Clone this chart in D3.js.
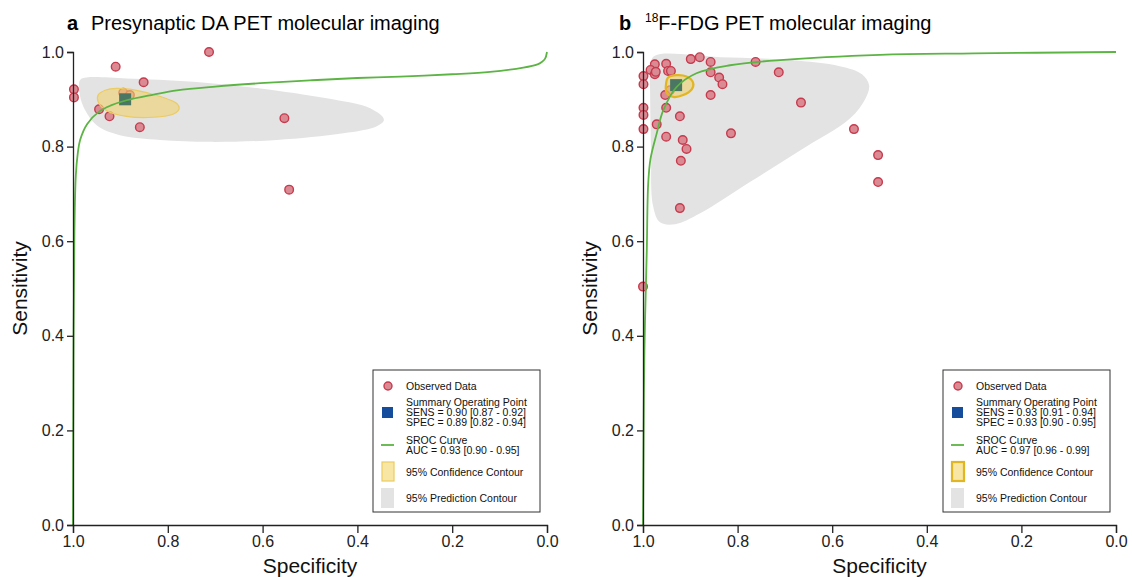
<!DOCTYPE html>
<html>
<head>
<meta charset="utf-8">
<script src="https://cdn.jsdelivr.net/npm/d3@7"></script>
<style>
  body { margin: 0; background: #fff; }
  svg { display: block; font-family: Arial, "Liberation Sans", sans-serif; }
</style>
</head>
<body>
<svg width="1132" height="577"></svg>
<script>
// ---- panel a : presynaptic DA PET ----
const aObsSpec = [0.713, 0.910, 0.998, 0.998, 0.851, 0.894, 0.880, 0.945, 0.923, 0.859, 0.554, 0.544];
const aObsSens = [1.000, 0.969, 0.921, 0.904, 0.936, 0.914, 0.909, 0.879, 0.864, 0.841, 0.860, 0.709];
const aSummary = [0.89, 0.90]; // spec, sens
const aCurveSpec = [1.000, 0.999, 0.997, 0.994, 0.990, 0.985, 0.970, 0.945, 0.920, 0.887, 0.830, 0.781, 0.700, 0.605, 0.500, 0.400, 0.310, 0.200, 0.120, 0.050, 0.020, 0.011, 0.004, 0.000];
const aCurveSens = [0.000, 0.350, 0.620, 0.740, 0.785, 0.814, 0.848, 0.874, 0.887, 0.898, 0.910, 0.919, 0.927, 0.934, 0.940, 0.945, 0.948, 0.953, 0.958, 0.967, 0.974, 0.979, 0.986, 1.000];
const aConfSpec = [0.947, 0.932, 0.908, 0.866, 0.816, 0.781, 0.776, 0.788, 0.831, 0.887, 0.929, 0.947];
const aConfSens = [0.909, 0.919, 0.923, 0.919, 0.906, 0.891, 0.881, 0.869, 0.862, 0.864, 0.876, 0.895];
const aPredSpec = [0.985, 0.971, 0.887, 0.746, 0.605, 0.465, 0.373, 0.344, 0.359, 0.430, 0.570, 0.711, 0.816, 0.901, 0.950, 0.978, 0.987];
const aPredSens = [0.941, 0.946, 0.944, 0.937, 0.923, 0.902, 0.881, 0.857, 0.843, 0.828, 0.814, 0.810, 0.814, 0.824, 0.845, 0.884, 0.919];
const aLegendSummary = ["SENS = 0.90 [0.87 - 0.92]", "SPEC = 0.89 [0.82 - 0.94]"];
const aLegendAuc = "AUC = 0.93 [0.90 - 0.95]";

// ---- panel b : 18F-FDG PET ----
const bObsSpec = [0.899, 0.880, 0.857, 0.762, 0.951, 0.975, 0.984, 0.975, 0.973, 0.947, 0.941, 0.999, 0.999, 0.857, 0.713, 0.839, 0.832, 0.943, 0.953, 0.857, 0.666, 0.999, 0.999, 0.951, 0.922, 0.999, 0.971, 0.951, 0.814, 0.554, 0.916, 0.908, 0.920, 0.922, 0.503, 0.503, 1.000];
const bObsSens = [0.985, 0.989, 0.979, 0.979, 0.975, 0.974, 0.962, 0.953, 0.958, 0.960, 0.960, 0.949, 0.932, 0.957, 0.957, 0.946, 0.932, 0.919, 0.909, 0.909, 0.893, 0.882, 0.867, 0.882, 0.864, 0.837, 0.847, 0.821, 0.828, 0.837, 0.814, 0.795, 0.770, 0.670, 0.782, 0.725, 0.504];
const bSummary = [0.93, 0.93];
const bCurveSpec = [1.000, 0.999, 0.997, 0.992, 0.989, 0.984, 0.971, 0.957, 0.929, 0.887, 0.816, 0.710, 0.499, 0.300, 0.000];
const bCurveSens = [0.000, 0.150, 0.369, 0.580, 0.722, 0.775, 0.828, 0.877, 0.926, 0.955, 0.972, 0.983, 0.994, 0.997, 1.000];
const bConfSpec = [0.951, 0.947, 0.929, 0.908, 0.894, 0.897, 0.915, 0.936, 0.950];
const bConfSens = [0.935, 0.946, 0.951, 0.948, 0.935, 0.921, 0.909, 0.905, 0.914];
const bPredSpec = [0.975, 0.837, 0.689, 0.584, 0.537, 0.522, 0.529, 0.562, 0.668, 0.774, 0.879, 0.932, 0.964, 0.979, 0.983, 0.985, 0.985];
const bPredSens = [0.992, 0.989, 0.983, 0.970, 0.953, 0.930, 0.903, 0.860, 0.792, 0.725, 0.659, 0.636, 0.640, 0.676, 0.792, 0.919, 0.972];
const bLegendSummary = ["SENS = 0.93 [0.91 - 0.94]", "SPEC = 0.93 [0.90 - 0.95]"];
const bLegendAuc = "AUC = 0.97 [0.96 - 0.99]";

const tickValues = [1.0, 0.8, 0.6, 0.4, 0.2, 0.0];

const zip = (s, t) => s.map((v, i) => [v, t[i]]);

const panels = [
  { letter: "a", sup: null, title: "Presynaptic DA PET molecular imaging",
    left: 73, right: 547, letterX: 67, titleX: 91,
    obs: zip(aObsSpec, aObsSens), summary: aSummary, curve: zip(aCurveSpec, aCurveSens),
    conf: zip(aConfSpec, aConfSens), pred: zip(aPredSpec, aPredSens),
    confStroke: "#ebcb63", confWidth: 1.2,
    legendX: 373, legendSummary: aLegendSummary, legendAuc: aLegendAuc },
  { letter: "b", sup: "18", title: "F-FDG PET molecular imaging",
    left: 643, right: 1116, letterX: 619, titleX: 645,
    obs: zip(bObsSpec, bObsSens), summary: bSummary, curve: zip(bCurveSpec, bCurveSens),
    conf: zip(bConfSpec, bConfSens), pred: zip(bPredSpec, bPredSens),
    confStroke: "#e2b522", confWidth: 2.2,
    legendX: 943, legendSummary: bLegendSummary, legendAuc: bLegendAuc }
];

const svg = d3.select("svg");
const plotTop = 52, plotBottom = 525;

const red = "#c63a4d", pink = "#da8a93", green = "#5cb444";

panels.forEach(p => {
  const x = d3.scaleLinear().domain([1, 0]).range([p.left, p.right]);
  const y = d3.scaleLinear().domain([0, 1]).range([plotBottom, plotTop]);
  const g = svg.append("g");

  const closed = d3.line().x(d => x(d[0])).y(d => y(d[1])).curve(d3.curveCatmullRomClosed.alpha(0.5));

  // prediction contour
  g.append("path").attr("d", closed(p.pred)).attr("fill", "#e3e3e3");

  // observed data
  g.selectAll("circle.obs").data(p.obs).enter().append("circle")
    .attr("class", "obs")
    .attr("cx", d => x(d[0])).attr("cy", d => y(d[1]))
    .attr("r", 4.3)
    .attr("fill", pink).attr("stroke", red).attr("stroke-width", 1.4);

  // confidence contour
  g.append("path").attr("d", closed(p.conf))
    .attr("fill", "#efd06e").attr("fill-opacity", 0.6)
    .attr("stroke", p.confStroke).attr("stroke-width", p.confWidth);

  // summary point
  g.append("rect")
    .attr("x", x(p.summary[0]) - 6).attr("y", y(p.summary[1]) - 6)
    .attr("width", 12).attr("height", 12)
    .attr("fill", "#4b7664");

  // SROC curve
  const line = d3.line().x(d => x(d[0])).y(d => y(d[1])).curve(d3.curveCatmullRom.alpha(0.5));
  g.append("path").attr("d", line(p.curve))
    .attr("fill", "none").attr("stroke", green).attr("stroke-width", 1.8);

  // axes
  const xAxis = g.append("g").attr("transform", `translate(0,${plotBottom})`)
    .call(d3.axisBottom(x).tickValues(tickValues).tickFormat(d3.format(".1f")).tickSize(8).tickPadding(3));
  const yAxis = g.append("g").attr("transform", `translate(${p.left},0)`)
    .call(d3.axisLeft(y).tickValues(tickValues).tickFormat(d3.format(".1f")).tickSize(6).tickPadding(3));
  [xAxis, yAxis].forEach(ax => {
    ax.selectAll("path, line").attr("stroke", "#222").attr("stroke-width", 1.3);
    ax.selectAll("text").attr("fill", "#222").style("font-size", "16px").style("font-family", "Arial, 'Liberation Sans', sans-serif");
  });

  // axis titles
  g.append("text")
    .attr("x", (p.left + p.right) / 2).attr("y", 573)
    .attr("text-anchor", "middle").style("font-size", "21px").attr("fill", "#111")
    .text("Specificity");
  g.append("text")
    .attr("transform", `translate(${p.left - 46},${(plotTop + plotBottom) / 2}) rotate(-90)`)
    .attr("text-anchor", "middle").style("font-size", "21px").attr("fill", "#111")
    .text("Sensitivity");

  // panel title
  g.append("text").attr("x", p.letterX).attr("y", 30)
    .style("font-size", "20px").style("font-weight", "bold").text(p.letter);
  const t = g.append("text").attr("x", p.titleX).attr("y", 30).style("font-size", "20px");
  if (p.sup) t.append("tspan").attr("dy", -8).style("font-size", "12px").text(p.sup);
  t.append("tspan").attr("dy", p.sup ? 8 : 0).text(p.title);

  // legend
  const lx = p.legendX;
  const lg = g.append("g").style("font-size", "10.5px").attr("fill", "#111");
  lg.append("rect").attr("x", lx).attr("y", 370).attr("width", 167).attr("height", 142)
    .attr("fill", "#fff").attr("stroke", "#333").attr("stroke-width", 1);
  lg.append("circle").attr("cx", lx + 15).attr("cy", 386).attr("r", 4)
    .attr("fill", pink).attr("stroke", red).attr("stroke-width", 1.4);
  lg.append("text").attr("x", lx + 33).attr("y", 390).text("Observed Data");
  lg.append("rect").attr("x", lx + 9).attr("y", 407).attr("width", 11).attr("height", 11).attr("fill", "#164c9c");
  lg.append("text").attr("x", lx + 33).attr("y", 406).text("Summary Operating Point");
  p.legendSummary.forEach((s, i) => {
    lg.append("text").attr("x", lx + 33).attr("y", 416 + i * 10).text(s);
  });
  lg.append("line").attr("x1", lx + 8).attr("x2", lx + 21).attr("y1", 445).attr("y2", 445)
    .attr("stroke", green).attr("stroke-width", 1.8);
  lg.append("text").attr("x", lx + 33).attr("y", 444).text("SROC Curve");
  lg.append("text").attr("x", lx + 33).attr("y", 454).text(p.legendAuc);
  lg.append("rect").attr("x", lx + 9).attr("y", 462).attr("width", 12).attr("height", 19)
    .attr("fill", "#f7e6a4").attr("stroke", p.confStroke).attr("stroke-width", p.confWidth);
  lg.append("text").attr("x", lx + 33).attr("y", 476).text("95% Confidence Contour");
  lg.append("rect").attr("x", lx + 8).attr("y", 488).attr("width", 13).attr("height", 20).attr("fill", "#e3e3e3");
  lg.append("text").attr("x", lx + 33).attr("y", 502).text("95% Prediction Contour");
});
</script>
</body>
</html>
